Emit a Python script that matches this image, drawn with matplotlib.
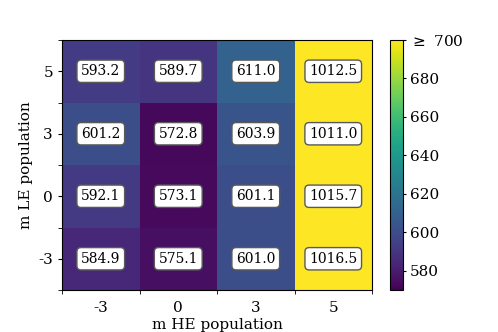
import numpy as np
import matplotlib.pyplot as plt
from matplotlib.ticker import FixedLocator

plt.rcParams['font.family'] = 'DejaVu Serif'

he_labels = ["-3", "0", "3", "5"]
le_labels = ["-3", "0", "3", "5"]

# rows: LE = -3, 0, 3, 5 ; columns: HE = -3, 0, 3, 5
values = np.array([
    [584.9, 575.1, 601.0, 1016.5],
    [592.1, 573.1, 601.1, 1015.7],
    [601.2, 572.8, 603.9, 1011.0],
    [593.2, 589.7, 611.0, 1012.5],
])

vmin, vmax = 570, 700

fig = plt.figure(figsize=(4.98, 3.32), dpi=100)
ax = fig.add_axes([0.1245, 0.1265, 0.6225, 0.753])
cax = fig.add_axes([0.783, 0.1265, 0.026, 0.753])

im = ax.imshow(values, cmap="viridis", vmin=vmin, vmax=vmax,
               origin="lower", aspect="auto")

for i in range(values.shape[0]):
    for j in range(values.shape[1]):
        ax.text(j, i, f"{values[i, j]:.1f}", ha="center", va="center",
                fontsize=10,
                bbox=dict(boxstyle="round,pad=0.3", fc="white", ec="0.35", lw=1))

ax.set_xticks(range(len(he_labels)))
ax.set_xticklabels(he_labels)
ax.set_yticks(range(len(le_labels)))
ax.set_yticklabels(le_labels)
ax.xaxis.set_minor_locator(FixedLocator(np.arange(-0.5, len(he_labels), 1)))
ax.yaxis.set_minor_locator(FixedLocator(np.arange(-0.5, len(le_labels), 1)))
ax.tick_params(axis="x", which="major", length=0, pad=8, labelsize=11)
ax.tick_params(axis="y", which="major", length=3, labelsize=11)
ax.tick_params(which="minor", length=3)
ax.set_xlabel("m HE population", fontsize=11, labelpad=2)
ax.set_ylabel("m LE population", fontsize=11)

cb = fig.colorbar(im, cax=cax)
ticks = [580, 600, 620, 640, 660, 680, 700]
cb.set_ticks(ticks)
cb.set_ticklabels([str(t) for t in ticks[:-1]] + [r"$\geq$ 700"])
cb.ax.tick_params(labelsize=11, length=2.2, pad=3)

fig.savefig("out.png", dpi=100)
